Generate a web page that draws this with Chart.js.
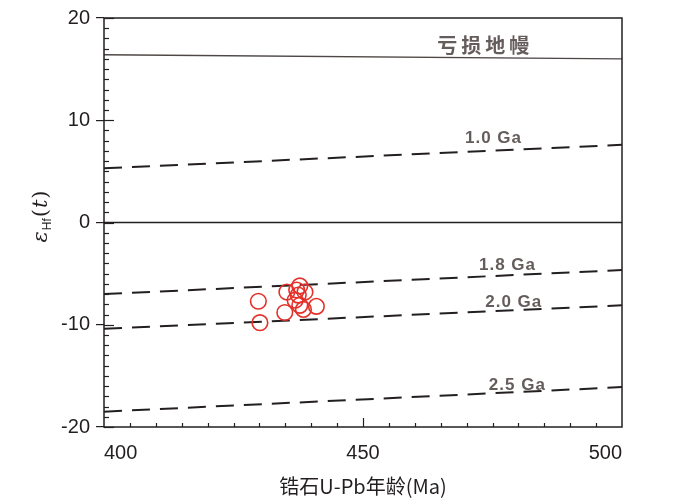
<!DOCTYPE html>
<html>
<head>
<meta charset="utf-8">
<script src="https://cdn.jsdelivr.net/npm/chart.js@4.4.1/dist/chart.umd.min.js"></script>
<style>
  html, body { margin: 0; padding: 0; background: #fff; }
  #wrap { width: 700px; height: 499px; }
</style>
</head>
<body>
<div id="wrap"><canvas id="c" width="700" height="499"></canvas></div>
<script>
// ── 데이터 ──
const xTicks = [400, 450, 500];
const yTicks = [-20, -10, 0, 10, 20];
const refAges = [400, 500];
const depletedMantle = [16.4, 16.0];
const chur = [0, 0];
const tdm10 = [5.3, 7.6];
const tdm18 = [-7.0, -4.65];
const tdm20 = [-10.4, -8.1];
const tdm25 = [-18.5, -16.1];
const lineNames = ['亏损地幔', '1.0 Ga', '1.8 Ga', '2.0 Ga', '2.5 Ga'];
const sampleAges = [429.8, 430.1, 434.9, 435.3, 437.8, 437.5, 436.9, 437.8, 438.5, 441.0, 438.8, 437.2];
const sampleEhf = [-7.7, -9.8, -8.8, -6.8, -6.2, -7.1, -7.6, -8.1, -8.5, -8.2, -6.8, -6.6];

const INK = '#231f20';
const LABEL_GREY = '#655d5b';
const FONT = '"Liberation Sans", Arial, sans-serif';

const toXY = (ys) => refAges.map((x, i) => ({ x, y: ys[i] }));

function refLine(ys, opts) {
  return Object.assign({
    data: toXY(ys), showLine: true, pointRadius: 0,
    borderColor: INK, borderWidth: 2, fill: false, order: 2
  }, opts);
}

// 라벨 위치 (데이터 좌표)
const labelPos = [
  { x: 473.2, y: 17.35, size: 20, cjk: true, sp: 4 },
  { x: 475.1, y: 8.27, size: 17, sp: 1 },
  { x: 477.8, y: -4.21, size: 17, sp: 1 },
  { x: 479.0, y: -7.80, size: 17, sp: 1 },
  { x: 479.7, y: -15.93, size: 17, sp: 1 }
];

/** 프레임, 보조 눈금, 라벨 */
const decor = {
  id: 'decor',
  afterDatasetsDraw(chart) {
    const { ctx, chartArea: a, scales: { x, y } } = chart;
    ctx.save();
    ctx.strokeStyle = INK;
    ctx.lineWidth = 1.5;
    ctx.strokeRect(a.left, a.top, a.right - a.left, a.bottom - a.top);

    // y 보조 눈금 (안쪽)
    ctx.lineWidth = 1.2;
    for (let v = -20; v <= 20; v++) {
      const py = Math.round(y.getPixelForValue(v)) + 0.5;
      const len = v % 10 === 0 ? 10 : 5;
      ctx.beginPath();
      ctx.moveTo(a.left, py);
      ctx.lineTo(a.left + len, py);
      ctx.stroke();
    }
    // x 보조 눈금 (위쪽)
    for (let v = 405; v < 500; v += 5) {
      const px = Math.round(x.getPixelForValue(v)) + 0.5;
      const len = v % 50 === 0 ? 9 : 4;
      ctx.beginPath();
      ctx.moveTo(px, a.bottom);
      ctx.lineTo(px, a.bottom - len);
      ctx.stroke();
    }

    // 선 라벨
    ctx.fillStyle = LABEL_GREY;
    ctx.textAlign = 'center';
    ctx.textBaseline = 'middle';
    labelPos.forEach((p, i) => {
      ctx.font = p.cjk
        ? `bold ${p.size}px "Noto Sans CJK SC", sans-serif`
        : `bold ${p.size}px ${FONT}`;
      ctx.letterSpacing = p.sp + 'px';
      // letterSpacing 뒤 여백 보정
      ctx.fillText(lineNames[i], x.getPixelForValue(p.x) + p.sp / 2, y.getPixelForValue(p.y));
    });
    ctx.letterSpacing = '0px';

    // y 축 제목 εHf(t)
    ctx.translate(40, 216);
    ctx.rotate(-Math.PI / 2);
    ctx.fillStyle = INK;
    ctx.textAlign = 'left';
    ctx.textBaseline = 'alphabetic';
    const parts = [
      { t: 'ε', f: 'italic 21px "DejaVu Serif", serif', dy: 0 },
      { t: 'Hf', f: `12px ${FONT}`, dy: 4 },
      { t: '(', f: '21px "DejaVu Serif", serif', dy: 0 },
      { t: 't', f: 'italic 21px "DejaVu Serif", serif', dy: 0 },
      { t: ')', f: '21px "DejaVu Serif", serif', dy: 0 }
    ];
    let w = 0;
    parts.forEach(p => { ctx.font = p.f; w += ctx.measureText(p.t).width + 1; });
    let cx = -w / 2;
    parts.forEach(p => {
      ctx.font = p.f;
      ctx.fillText(p.t, cx, 7 + p.dy);
      cx += ctx.measureText(p.t).width + 1;
    });
    ctx.restore();
  }
};

new Chart(document.getElementById('c').getContext('2d'), {
  type: 'scatter',
  data: {
    datasets: [
      {
        label: 'samples',
        data: sampleAges.map((x, i) => ({ x, y: sampleEhf[i] })),
        pointStyle: 'circle', pointRadius: 7.8,
        borderColor: '#e3312a', borderWidth: 1.6,
        backgroundColor: 'rgba(0,0,0,0)', order: 0
      },
      refLine(depletedMantle, { borderColor: '#4d4745', borderWidth: 1.4 }),
      refLine(chur, { borderWidth: 1.6 }),
      refLine(tdm10, { borderDash: [18, 10] }),
      refLine(tdm18, { borderDash: [18, 10] }),
      refLine(tdm20, { borderDash: [18, 10] }),
      refLine(tdm25, { borderDash: [18, 10] })
    ]
  },
  options: {
    responsive: false,
    animation: false,
    layout: { padding: { top: 5, right: 78, left: 0, bottom: 0 } },
    plugins: { legend: { display: false }, tooltip: { enabled: false } },
    scales: {
      x: {
        type: 'linear', min: 400, max: 500,
        afterBuildTicks: s => { s.ticks = xTicks.map(v => ({ value: v })); },
        afterFit: s => { s.height = 72; },
        border: { display: false },
        grid: { display: false, drawTicks: false },
        ticks: { align: 'inner', color: INK, padding: 14, font: { family: FONT, size: 20 } },
        title: {
          display: true, text: '锆石U-Pb年龄(Ma)', color: INK,
          padding: { top: 0, bottom: 1 },
          font: { family: '"Noto Sans CJK SC", sans-serif', size: 20 }
        }
      },
      y: {
        type: 'linear', min: -20, max: 20,
        afterBuildTicks: s => { s.ticks = yTicks.map(v => ({ value: v })); },
        afterFit: s => { s.width = 104; },
        border: { display: false },
        grid: { drawOnChartArea: false, drawTicks: true, tickLength: 8, color: INK, lineWidth: 1.2 },
        ticks: { color: INK, padding: 6, font: { family: FONT, size: 20 } }
      }
    }
  },
  plugins: [decor]
});
</script>
</body>
</html>
